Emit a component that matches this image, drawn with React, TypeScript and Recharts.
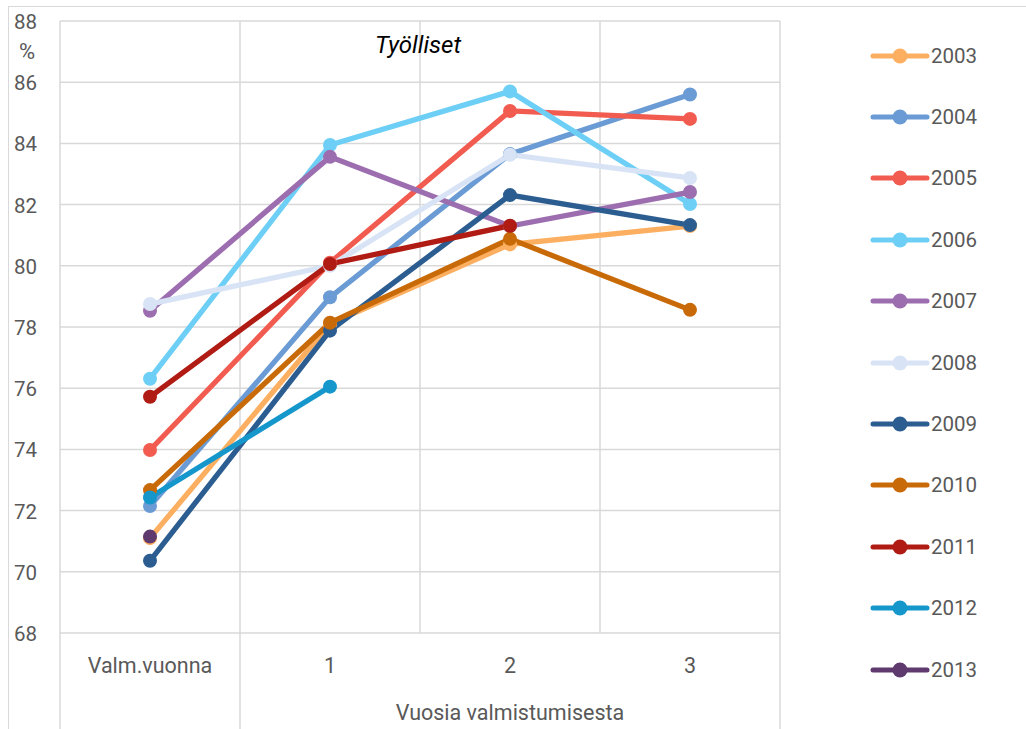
import { LineChart, Line, XAxis, YAxis, CartesianGrid } from 'recharts'

// Categories on the x axis and the group label under years 1..3
const CATEGORIES = ['Valm.vuonna', '1', '2', '3']
const GROUP_LABEL = 'Vuosia valmistumisesta'
const Y_TICKS = [68, 70, 72, 74, 76, 78, 80, 82, 84, 86, 88]

// Employment share (%) by graduation year
const Y2003 = [71.1, 78.1, 80.7, 81.3]
const Y2004 = [72.15, 78.97, 83.65, 85.6]
const Y2005 = [73.98, 80.1, 85.06, 84.8]
const Y2006 = [76.31, 83.95, 85.7, 82.02]
const Y2007 = [78.53, 83.56, 81.3, 82.41]
const Y2008 = [78.75, 80.0, 83.63, 82.87]
const Y2009 = [70.36, 77.88, 82.31, 81.33]
const Y2010 = [72.67, 78.14, 80.88, 78.56]
const Y2011 = [75.72, 80.06, 81.31]
const Y2012 = [72.43, 76.05]
const Y2013 = [71.15]

const SERIES = [
    { name: '2003', values: Y2003, color: '#FCAF60' },
    { name: '2004', values: Y2004, color: '#6A9BD4' },
    { name: '2005', values: Y2005, color: '#F25C50' },
    { name: '2006', values: Y2006, color: '#6DCFF6' },
    { name: '2007', values: Y2007, color: '#9D6EAF' },
    { name: '2008', values: Y2008, color: '#D8E4F5' },
    { name: '2009', values: Y2009, color: '#2C5D91' },
    { name: '2010', values: Y2010, color: '#C96A08' },
    { name: '2011', values: Y2011, color: '#B01C14' },
    { name: '2012', values: Y2012, color: '#1597CC' },
    { name: '2013', values: Y2013, color: '#5E3A6E' },
]

const rows = CATEGORIES.map((cat, i) => {
    const row: Record<string, any> = { cat }
    SERIES.forEach(s => {
        if (i < s.values.length) row[s.name] = s.values[i]
    })
    return row
})

const W = 1026
const H = 729
const PLOT_LEFT = 60
const PLOT_RIGHT = 780
const PLOT_TOP = 21
const X_AXIS_H = 96
const PLOT_W = PLOT_RIGHT - PLOT_LEFT
const GRID = '#D9D9D9'
const TEXT = '#595959'
const FONT = 'Roboto, "Liberation Sans", sans-serif'

const XTick = (props: any) => {
    const { x, y, payload, index } = props
    const half = PLOT_W / CATEGORIES.length / 2
    return (
        <g>
            <text x={x} y={y + 40} textAnchor="middle" fill={TEXT} fontSize={21.5} fontFamily={FONT}>
                {payload.value}
            </text>
            {index === 0 && (
                <>
                    <line x1={x - half} x2={x - half} y1={y} y2={y + X_AXIS_H} stroke={GRID} strokeWidth={1.5} />
                    <line x1={x + half} x2={x + half} y1={y} y2={y + X_AXIS_H} stroke={GRID} strokeWidth={1.5} />
                </>
            )}
            {index === CATEGORIES.length - 1 && (
                <line x1={x + half} x2={x + half} y1={y} y2={y + X_AXIS_H} stroke={GRID} strokeWidth={1.5} />
            )}
            {index === 2 && (
                <text x={x} y={y + 87} textAnchor="middle" fill={TEXT} fontSize={21.5} fontFamily={FONT}>
                    {GROUP_LABEL}
                </text>
            )}
        </g>
    )
}

const YTick = (props: any) => {
    const { y, payload } = props
    return (
        <text x={37} y={y + 8} textAnchor="end" fill={TEXT} fontSize={20.5} fontFamily={FONT}>
            {payload.value}
        </text>
    )
}

// Legend on the right, one row per series
const SeriesLegend = () => (
    <div style={{ position: 'absolute', left: 870, top: 25, display: 'flex', flexDirection: 'column' }}>
        {SERIES.map(s => (
            <div key={s.name} style={{ height: 61.4, display: 'flex', alignItems: 'center' }}>
                <svg width={60} height={18} style={{ display: 'block' }}>
                    <line x1={3} x2={57} y1={9} y2={9} stroke={s.color} strokeWidth={5} strokeLinecap="round" />
                    <circle cx={30} cy={9} r={7.5} fill={s.color} />
                </svg>
                <span style={{ fontFamily: FONT, fontSize: 20.5, color: TEXT, marginLeft: 1 }}>{s.name}</span>
            </div>
        ))}
    </div>
)

export default function App() {
    return (
        <div style={{ position: 'absolute', left: 0, top: 0, width: W, height: H, overflow: 'hidden', background: '#fff' }}>
            {/* outer chart frame */}
            <div style={{ position: 'absolute', left: 8, top: 6, width: W, height: H, borderTop: `1.5px solid ${GRID}`, borderLeft: `1.5px solid ${GRID}` }} />
            <div style={{ position: 'absolute', left: 0, top: 0 }}>
                <LineChart
                    width={W}
                    height={H}
                    data={rows}
                    margin={{ top: PLOT_TOP, right: W - PLOT_RIGHT, bottom: 0, left: 8 }}
                >
                    <CartesianGrid
                        stroke={GRID}
                        strokeWidth={1.5}
                        verticalCoordinatesGenerator={({ offset }: any) => {
                            const left = offset?.left ?? PLOT_LEFT
                            const width = offset?.width ?? PLOT_W
                            const xs = CATEGORIES.map((_, i) => left + (width * i) / CATEGORIES.length)
                            return [...xs, left + width]
                        }}
                    />
                    <XAxis
                        dataKey="cat"
                        height={X_AXIS_H}
                        padding={{ left: PLOT_W / CATEGORIES.length / 2, right: PLOT_W / CATEGORIES.length / 2 }}
                        axisLine={false}
                        tickLine={false}
                        tickSize={0}
                        tickMargin={0}
                        interval={0}
                        tick={<XTick />}
                    />
                    <YAxis
                        width={PLOT_LEFT - 8}
                        domain={[68, 88]}
                        ticks={Y_TICKS}
                        axisLine={false}
                        tickLine={false}
                        tick={<YTick />}
                        allowDataOverflow
                    />
                    {SERIES.map(s => (
                        <Line
                            key={s.name}
                            type="linear"
                            dataKey={s.name}
                            name={s.name}
                            stroke={s.color}
                            strokeWidth={5.3}
                            dot={{ r: 7, fill: s.color, stroke: s.color, strokeWidth: 0 }}
                            activeDot={false}
                            isAnimationActive={false}
                        />
                    ))}
                </LineChart>
            </div>
            <SeriesLegend />
            <div style={{ position: 'absolute', left: 318, width: 200, top: 30, textAlign: 'center', fontFamily: FONT, fontStyle: 'italic', fontSize: 24, color: '#000', lineHeight: '30px' }}>
                Työlliset
            </div>
            <div style={{ position: 'absolute', left: 19, top: 40, fontFamily: FONT, fontSize: 22, color: TEXT, lineHeight: '24px' }}>
                %
            </div>
        </div>
    )
}
